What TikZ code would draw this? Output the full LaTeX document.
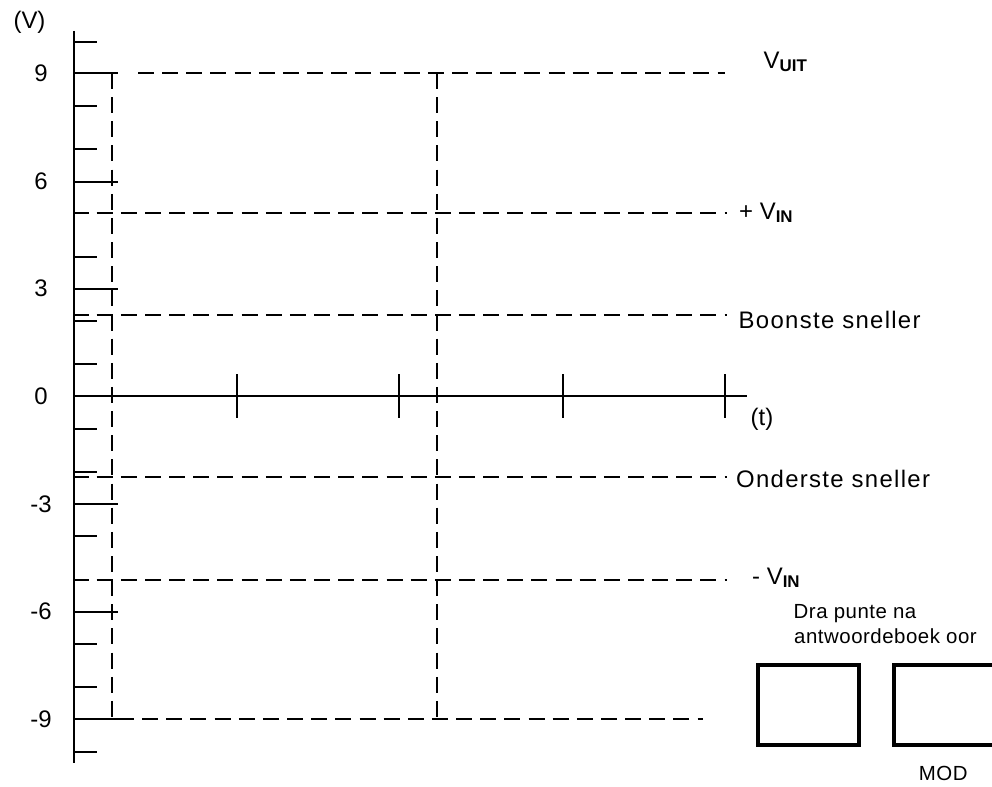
\documentclass[tikz,border=0pt]{standalone}
\usepackage{fontspec}
\setmainfont{Liberation Sans}
\newfontfamily\widefont[LetterSpace=5.5]{Liberation Sans}
\newfontfamily\semiwidefont[LetterSpace=2.5]{Liberation Sans}
\newcommand\subb[1]{\raisebox{-3bp}{\fontsize{17}{17}\selectfont\bfseries #1}}
\tikzset{
  axisline/.style={line width=1.8bp},
  tickline/.style={line width=1.8bp},
  guide/.style={line width=1.7bp, dash pattern=on 16bp off 8.15bp, dash phase=1.45bp},
  numlab/.style={font=\fontsize{24}{28}\selectfont, inner sep=0pt},
  sidelab/.style={font=\fontsize{24}{28}\selectfont, inner sep=0pt, anchor=base west},
  smalllab/.style={font=\fontsize{20.5}{24}\selectfont\semiwidefont, inner sep=0pt, anchor=base west},
  markbox/.style={draw, line width=4bp, inner sep=0pt, minimum width=101bp, minimum height=80bp},
}
\begin{document}
\begin{tikzpicture}[x=1bp,y=-1bp]
\useasboundingbox (0,0) rectangle (992,787);
% axes
\coordinate (ytop) at (74,31);
\coordinate (ybot) at (74,763);
\coordinate (xl) at (74,396);
\coordinate (xr) at (747,396);
\draw[axisline] (ytop) -- (ybot);
\draw[axisline] (xl) -- (xr);
% y ticks
\foreach \y in {42,106,149,257,321,364,429,472,536,644,687,752}
  \draw[tickline] (74,\y) -- (96.7,\y);
\foreach \y in {73,182,289,504,612,719}
  \draw[tickline] (74,\y) -- (118,\y);
% t ticks
\foreach \x in {237,399,563,725}
  \draw[tickline] (\x,374.3) -- (\x,418.3);
% dashed guides
\draw[guide, dash phase=0bp] (138,73) -- (725,73);
\draw[guide] (74,213) -- (727,213);
\draw[guide] (74,315) -- (727,315);
\draw[guide] (74,477) -- (727,477);
\draw[guide] (74,580) -- (727,580);
\draw[guide, dash phase=0bp] (118,719) -- (703,719);
\draw[guide, dash phase=0bp] (112,73) -- (112,719);
\draw[guide, dash phase=0bp] (437,73) -- (437,719);
% axis labels
\node[numlab] (vlab) at (29.5,22.5) {(V)};
\node[numlab] (n9) at (41,73.3) {9};
\node[numlab] (n6) at (41,181.7) {6};
\node[numlab] (n3) at (41,288.7) {3};
\node[numlab] (n0) at (41,396) {0};
\node[numlab] (nm3) at (41,504.3) {-3};
\node[numlab] (nm6) at (41,611.7) {-6};
\node[numlab] (nm9) at (41,719.3) {-9};
\node[numlab] (tlab) at (762,419) {(t)};
% right labels
\node[sidelab] (vuit) at (763.5,68.3) {V\subb{UIT}};
\node[sidelab] (pvin) at (739,219) {+ V\subb{IN}};
\node[sidelab, font=\fontsize{24}{28}\selectfont\widefont] (boon) at (738.5,328.3) {Boonste sneller};
\node[sidelab, font=\fontsize{24}{28}\selectfont\widefont] (onder) at (736,487.7) {Onderste sneller};
\node[sidelab] (mvin) at (752,584) {- V\subb{IN}};
\node[smalllab] (dra) at (793.5,618.3) {Dra punte na};
\node[smalllab] (antw) at (794,643.3) {antwoordeboek oor};
% boxes
\node[markbox] (box1) at (808.5,705) {};
\node[markbox] (box2) at (944.5,705) {};
\node[font=\fontsize{20.5}{24}\selectfont\semiwidefont, inner sep=0pt, anchor=base] (mod) at (943.3,780) {MOD};
\end{tikzpicture}
\end{document}
